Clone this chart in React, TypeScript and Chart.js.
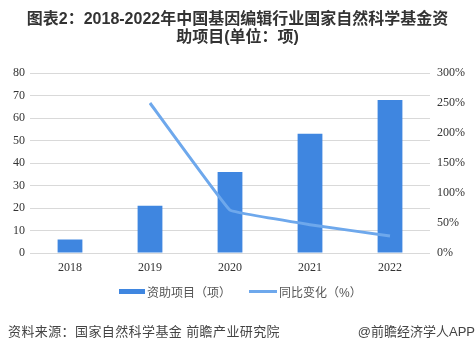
import React, { useEffect, useRef } from "react";
import { Chart, registerables } from "chart.js";

Chart.register(...registerables);

const categories = ["2018", "2019", "2020", "2021", "2022"];
const projects = [6, 21, 36, 53, 68];
const growth = [null, 250, 71.4, 47.2, 28.3];
const leftTicks = [0, 10, 20, 30, 40, 50, 60, 70, 80];
const rightTicks = [0, 50, 100, 150, 200, 250, 300];

const BAR = "#3f86e0";
const LINE = "#6ea8ec";

export default function App() {
  const ref = useRef<HTMLCanvasElement>(null);
  useEffect(() => {
    document.body.style.margin = "0";
    const chart = new Chart(ref.current!, {
      data: {
        labels: categories,
        datasets: [
          {
            type: "line",
            label: "同比变化（%）",
            data: growth,
            yAxisID: "y1",
            borderColor: LINE,
            backgroundColor: LINE,
            borderWidth: 3,
            pointRadius: 0,
            tension: 0.05,
            order: 0,
          } as any,
          {
            type: "bar",
            label: "资助项目（项）",
            data: projects,
            yAxisID: "y",
            backgroundColor: BAR,
            categoryPercentage: 1,
            barPercentage: 0.31,
            order: 1,
          },
        ],
      },
      options: {
        animation: false,
        responsive: false,
        layout: { padding: { top: 73, left: 0, right: 0, bottom: 0 } },
        plugins: { legend: { display: false }, tooltip: { enabled: false } },
        scales: {
          x: {
            grid: { display: false, drawTicks: false },
            border: { display: false },
            ticks: { padding: 8, color: "#333", font: { family: "Liberation Serif", size: 12 } },
            afterFit: (s: any) => { s.height = 98; },
          },
          y: {
            position: "left",
            min: 0,
            max: 80,
            afterBuildTicks: (s: any) => { s.ticks = leftTicks.map((v) => ({ value: v })); },
            grid: { color: "#d9d9d9", drawTicks: false, lineWidth: 1 },
            border: { display: false },
            ticks: { padding: 5, color: "#333", font: { family: "Liberation Serif", size: 12 } },
            afterFit: (s: any) => { s.width = 30; },
          },
          y1: {
            position: "right",
            min: 0,
            max: 300,
            afterBuildTicks: (s: any) => { s.ticks = rightTicks.map((v) => ({ value: v })); },
            grid: { display: false, drawTicks: false },
            border: { display: false },
            ticks: {
              padding: 7,
              color: "#333",
              font: { family: "Liberation Serif", size: 12 },
              callback: (v: any) => v + "%",
            },
            afterFit: (s: any) => { s.width = 45; },
          },
        },
      },
    });
    return () => chart.destroy();
  }, []);

  const sans = "'Liberation Sans', 'Noto Sans CJK SC', sans-serif";
  return (
    <div style={{ position: "relative", width: 475, height: 351, background: "#fff", overflow: "hidden" }}>
      <canvas ref={ref} width={475} height={351} style={{ position: "absolute", left: 0, top: 0 }} />
      <div
        style={{
          position: "absolute",
          left: 0,
          top: 10,
          width: 475,
          textAlign: "center",
          fontFamily: sans,
          fontWeight: "bold",
          fontSize: 16,
          lineHeight: "18px",
          color: "#333",
        }}
      >
        图表2：2018-2022年中国基因编辑行业国家自然科学基金资
        <br />
        助项目(单位：项)
      </div>
      <div
        style={{
          position: "absolute",
          left: 119,
          top: 283,
          display: "flex",
          alignItems: "center",
          fontFamily: sans,
          fontSize: 12,
          color: "#555",
        }}
      >
        <span style={{ display: "inline-block", width: 26, height: 5, background: BAR, marginRight: 2 }} />
        <span style={{ display: "inline-block", width: 102 }}>资助项目（项）</span>
        <span style={{ display: "inline-block", width: 28, height: 3, background: LINE, marginRight: 2 }} />
        <span>同比变化（%）</span>
      </div>
      <div
        style={{
          position: "absolute",
          left: 8,
          top: 321,
          fontFamily: sans,
          fontSize: 13,
          letterSpacing: 0.4,
          color: "#444",
        }}
      >
        资料来源：国家自然科学基金 前瞻产业研究院
      </div>
      <div
        style={{
          position: "absolute",
          right: 0,
          top: 321,
          fontFamily: sans,
          fontSize: 13,
          color: "#444",
        }}
      >
        @前瞻经济学人APP
      </div>
    </div>
  );
}
